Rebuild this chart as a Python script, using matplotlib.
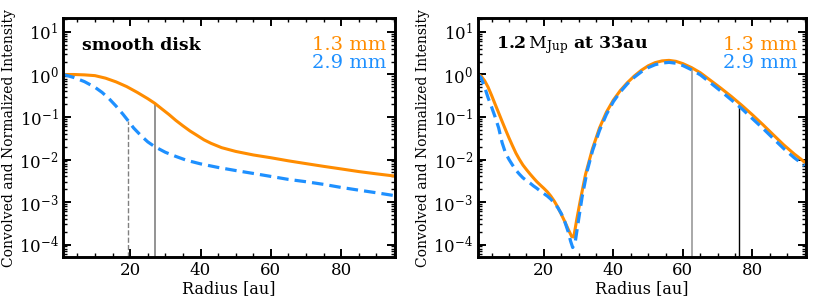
import matplotlib
matplotlib.use("Agg")
import matplotlib.pyplot as plt
from matplotlib.ticker import LogLocator, MultipleLocator, NullFormatter

plt.rcParams['font.family'] = ['DejaVu Serif']
plt.rcParams['mathtext.fontset'] = 'dejavuserif'

# ---------------- data: smooth disk ----------------
smooth_r_13 = [1, 4, 7, 10, 13, 16, 19, 22, 25, 27, 29, 31, 33, 35, 37, 39, 41, 43, 46,
               50, 55, 60, 65, 70, 75, 80, 85, 90, 95]
smooth_I_13 = [1.0, 1.0, 0.98, 0.94, 0.82, 0.67, 0.52, 0.38, 0.27, 0.21, 0.155, 0.115,
               0.083, 0.062, 0.047, 0.037, 0.029, 0.024, 0.019, 0.0155, 0.0128, 0.011,
               0.0093, 0.008, 0.0069, 0.006, 0.0052, 0.0046, 0.0041]
smooth_r_29 = [1, 4, 7, 10, 12, 14, 16, 18, 19.5, 21, 23, 25, 27, 30, 33, 36, 40, 45,
               50, 55, 60, 65, 70, 75, 80, 85, 90, 95]
smooth_I_29 = [1.0, 0.85, 0.68, 0.5, 0.38, 0.27, 0.18, 0.115, 0.08, 0.055, 0.037, 0.026,
               0.02, 0.0148, 0.0118, 0.0096, 0.0079, 0.0065, 0.0055, 0.0047, 0.004,
               0.0034, 0.003, 0.0026, 0.0022, 0.0019, 0.00165, 0.00142]
smooth_vl_x = [19.5, 27.0]
smooth_vl_top = [0.08, 0.21]

# ---------------- data: planet 1.2 MJup at 33 au ----------------
planet_r_13 = [1, 2, 3, 4, 5, 6, 7, 8, 9, 10, 11, 12, 13, 14, 15, 16, 17, 18, 19, 20,
               21, 22, 23, 24, 25, 26, 27, 28, 28.6, 29.5, 30.5, 32, 34, 36, 38, 40,
               42, 44, 46, 48, 50, 52, 54, 56, 58, 60, 62.5, 65, 68, 71, 74, 77, 80,
               83, 86, 89, 92, 95]
planet_I_13 = [1.0, 0.91, 0.71, 0.5, 0.32, 0.2, 0.126, 0.079, 0.05, 0.032, 0.021, 0.014,
               0.01, 0.0074, 0.0058, 0.0046, 0.0037, 0.003, 0.0025, 0.0021, 0.00174,
               0.00138, 0.00105, 0.00076, 0.00052, 0.00035, 0.00023, 0.000155, 0.00015,
               0.0004, 0.0011, 0.0045, 0.018, 0.055, 0.13, 0.25, 0.42, 0.64, 0.92, 1.25,
               1.6, 1.9, 2.09, 2.15, 2.04, 1.8, 1.45, 1.1, 0.72, 0.47, 0.3, 0.186, 0.112,
               0.066, 0.038, 0.022, 0.0135, 0.0087]
planet_r_29 = [1, 2, 3, 4, 5, 6, 7, 8, 9, 10, 11, 12, 13, 14, 15, 16, 17, 18, 19, 20,
               21, 22, 23, 24, 25, 26, 27, 27.7, 28.3, 29, 29.8, 31, 32.5, 34, 36, 38,
               40, 42, 44, 46, 48, 50, 52, 54, 56, 58, 60, 62.5, 65, 68, 71, 74, 77, 80,
               83, 86, 89, 92, 95]
planet_I_29 = [1.0, 0.83, 0.5, 0.28, 0.17, 0.1, 0.056, 0.025, 0.0141, 0.01, 0.0074,
               0.0056, 0.0045, 0.0037, 0.0032, 0.0028, 0.0024, 0.0021, 0.0018, 0.00158,
               0.00138, 0.00117, 0.00095, 0.00074, 0.00054, 0.00035, 0.0002, 0.00012,
               0.000085, 0.00011, 0.0003, 0.0013, 0.0055, 0.016, 0.048, 0.115, 0.23,
               0.39, 0.6, 0.86, 1.15, 1.45, 1.7, 1.86, 1.93, 1.84, 1.62, 1.29, 0.98,
               0.63, 0.4, 0.25, 0.155, 0.091, 0.054, 0.031, 0.018, 0.011, 0.0072]
planet_vl_x = [62.7, 76.0]
planet_vl_top = [1.4, 0.2]

ORANGE = '#FF8C00'
BLUE = '#1E90FF'

fig = plt.figure(figsize=(8.14, 3.02), dpi=100)
axL = fig.add_axes([0.0778, 0.148, 0.4075, 0.7914])
axR = fig.add_axes([0.5869, 0.148, 0.4029, 0.7914])


def style(ax):
    ax.set_yscale('log')
    ax.set_xlim(1, 95.3)
    ax.set_ylim(5e-5, 21)
    ax.xaxis.set_major_locator(MultipleLocator(20))
    ax.xaxis.set_minor_locator(MultipleLocator(5))
    ax.yaxis.set_major_locator(LogLocator(base=10, numticks=20))
    ax.yaxis.set_minor_locator(LogLocator(base=10, subs=range(2, 10), numticks=20))
    ax.yaxis.set_minor_formatter(NullFormatter())
    ax.tick_params(which='both', direction='in', top=True, right=True,
                   labelsize=12)
    ax.tick_params(which='major', length=5.5, width=1.4)
    ax.tick_params(which='minor', length=3, width=1.0)
    for s in ax.spines.values():
        s.set_linewidth(2.1)
    ax.set_xlabel('Radius [au]', fontsize=11.5, labelpad=1)
    ax.set_ylabel('Convolved and Normalized Intensity', fontsize=10, labelpad=2)


DASH = (0, (3.6, 1.9))

# left panel
axL.vlines(smooth_vl_x[0], 5e-5, smooth_vl_top[0], colors='#808080', linestyles='--', lw=1.0)
axL.vlines(smooth_vl_x[1], 5e-5, smooth_vl_top[1], colors='#808080', linestyles='-', lw=1.2)
axL.plot(smooth_r_13, smooth_I_13, color=ORANGE, lw=2.2)
axL.plot(smooth_r_29, smooth_I_29, color=BLUE, lw=2.3, ls=DASH)
style(axL)
axL.text(0.055, 0.888, 'smooth disk', transform=axL.transAxes, fontsize=12.5,
         fontweight='bold', va='center', ha='left')
axL.text(0.975, 0.888, '1.3 mm', transform=axL.transAxes, fontsize=14,
         color=ORANGE, va='center', ha='right')
axL.text(0.975, 0.813, '2.9 mm', transform=axL.transAxes, fontsize=14,
         color=BLUE, va='center', ha='right')

# right panel
axR.vlines(planet_vl_x[0], 5e-5, planet_vl_top[0], colors='#999999', linestyles='-', lw=1.2)
axR.vlines(planet_vl_x[1], 5e-5, planet_vl_top[1], colors='black', linestyles='-', lw=1.0)
axR.plot(planet_r_13, planet_I_13, color=ORANGE, lw=2.2)
axR.plot(planet_r_29, planet_I_29, color=BLUE, lw=2.3, ls=DASH)
style(axR)
axR.text(0.055, 0.888, r'$\mathbf{1.2}\,\mathrm{M_{Jup}}$ at 33au', transform=axR.transAxes,
         fontsize=12.5, fontweight='bold', va='center', ha='left')
axR.text(0.975, 0.888, '1.3 mm', transform=axR.transAxes, fontsize=14,
         color=ORANGE, va='center', ha='right')
axR.text(0.975, 0.813, '2.9 mm', transform=axR.transAxes, fontsize=14,
         color=BLUE, va='center', ha='right')

fig.savefig('out.png', dpi=100)
